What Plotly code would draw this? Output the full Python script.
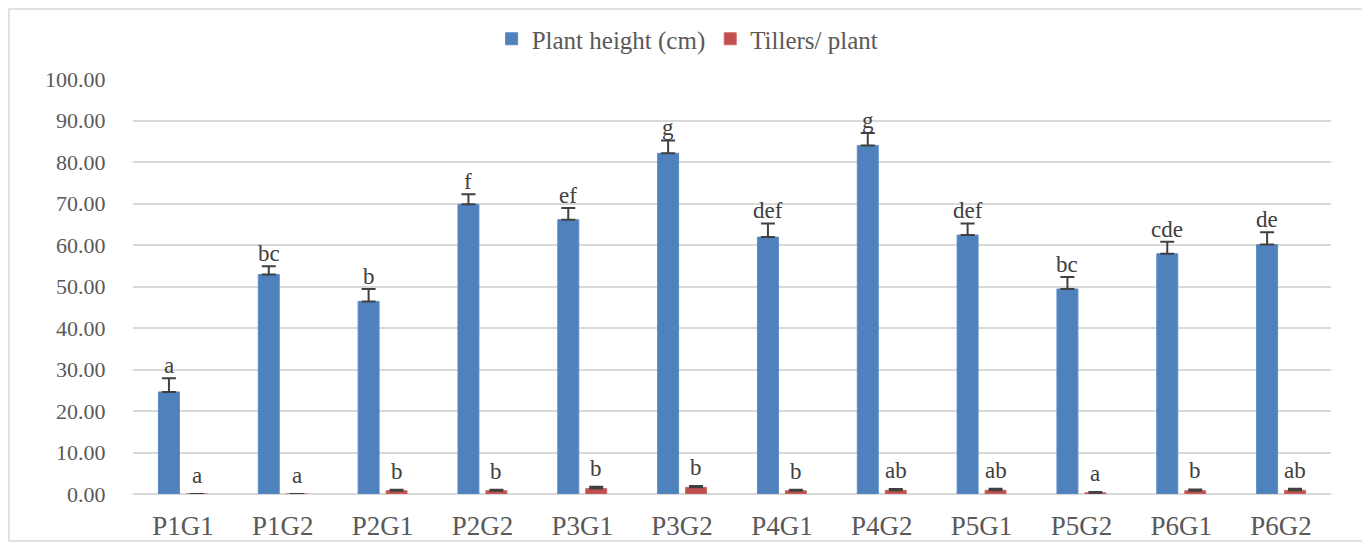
import plotly.graph_objects as go

categories = ["P1G1", "P1G2", "P2G1", "P2G2", "P3G1", "P3G2",
              "P4G1", "P4G2", "P5G1", "P5G2", "P6G1", "P6G2"]
height_vals = [24.6, 52.9, 46.4, 69.8, 66.1, 82.1, 61.9, 84.0, 62.4, 49.4, 57.9, 60.1]
height_err = [3.3, 2.0, 3.0, 2.4, 2.8, 3.1, 3.3, 3.0, 2.8, 2.9, 2.9, 3.0]
height_letters = ["a", "bc", "b", "f", "ef", "g", "def", "g", "def", "bc", "cde", "de"]
tiller_vals = [0.0, 0.0, 0.8, 0.8, 1.3, 1.6, 0.8, 0.9, 0.9, 0.3, 0.8, 0.9]
tiller_err = [0.0, 0.0, 0.25, 0.2, 0.45, 0.3, 0.25, 0.3, 0.35, 0.2, 0.3, 0.35]
tiller_letters = ["a", "a", "b", "b", "b", "b", "b", "ab", "ab", "a", "b", "ab"]
yticks = [0, 10, 20, 30, 40, 50, 60, 70, 80, 90, 100]

FONT = "Liberation Serif, Times New Roman, serif"
AX_COLOR = "#595959"
BLUE = "#4F81BD"
RED = "#C0504D"
ERR = "#404040"

W, H = 1362, 534
ML, MR, MT, MB = 125, 39, 71, 48
PW, PH = W - ML - MR, H - MT - MB

fig = go.Figure()
fig.add_trace(go.Bar(
    name="Plant height (cm)", x=categories, y=height_vals,
    marker=dict(color=BLUE, line=dict(color="#5b8cc7", width=1)),
    error_y=dict(type="data", array=height_err, arrayminus=[0] * len(height_err),
                 symmetric=False, color=ERR, thickness=2, width=7),
))
fig.add_trace(go.Bar(
    name="Tillers/ plant", x=categories, y=tiller_vals,
    marker=dict(color=RED, line=dict(color="#cc6a67", width=1)),
    error_y=dict(type="data", array=tiller_err, arrayminus=[0] * len(tiller_err),
                 symmetric=False, color=ERR, thickness=2, width=7),
))

# significance letters
for i, c in enumerate(categories):
    fig.add_annotation(x=c, y=height_vals[i] + height_err[i], xref="x", yref="y",
                       text=height_letters[i], showarrow=False, xshift=-14,
                       yanchor="bottom", yshift=-2,
                       font=dict(family=FONT, size=23, color="#404040"))
    fig.add_annotation(x=c, y=tiller_vals[i] + tiller_err[i], xref="x", yref="y",
                       text=tiller_letters[i], showarrow=False, xshift=14,
                       yanchor="bottom", yshift=4,
                       font=dict(family=FONT, size=23, color="#404040"))

# outer chart frame
fig.add_shape(type="rect", xref="paper", yref="paper",
              x0=(1 - ML) / PW, x1=(W - 4 - ML) / PW,
              y0=(PH - (H - 1 - MT)) / PH, y1=(PH + MT - 1) / PH,
              line=dict(color="#d9d9d9", width=1.5), fillcolor="rgba(0,0,0,0)",
              layer="below")

fig.update_layout(
    width=W, height=H,
    margin=dict(l=ML, r=MR, t=MT, b=MB, autoexpand=False),
    paper_bgcolor="white", plot_bgcolor="white",
    barmode="group", bargap=0.44, bargroupgap=0.25,
    font=dict(family=FONT, color=AX_COLOR),
    legend=dict(orientation="h", x=0.499, xanchor="center", xref="container",
                y=1 - 31 / H, yref="container", yanchor="middle",
                bgcolor="rgba(0,0,0,0)",
                font=dict(family=FONT, size=25, color=AX_COLOR),
                itemclick=False, tracegroupgap=0),
    showlegend=True,
)
fig.update_xaxes(
    type="category", showgrid=False, showline=False, zeroline=False,
    ticks="outside", ticklen=8, tickcolor="rgba(0,0,0,0)",
    tickfont=dict(family=FONT, size=27, color=AX_COLOR),
)
fig.update_yaxes(
    range=[0, 100], tickvals=yticks, ticktext=[f"{v:.2f}" for v in yticks],
    showgrid=True, gridcolor="#d9d9d9", gridwidth=1.5,
    zeroline=True, zerolinecolor="#d9d9d9", zerolinewidth=1.5,
    showline=False, ticks="outside", ticklen=22, tickcolor="rgba(0,0,0,0)",
    tickfont=dict(family=FONT, size=22, color=AX_COLOR),
)

fig.write_html("out.html")
